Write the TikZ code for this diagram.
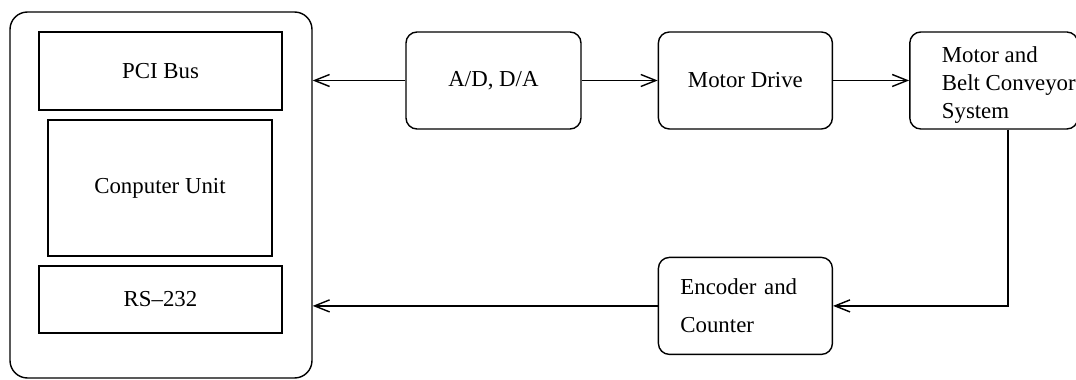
\documentclass[tikz,border=0pt]{standalone}
\usepackage{fontspec}
\setmainfont{Liberation Serif}
\usepackage{tikz}
\usetikzlibrary{arrows.meta, positioning}

\begin{document}
\begin{tikzpicture}[
		node distance=1.52cm,
		line width=0.8pt,
		font=\fontsize{13}{16}\selectfont,
		block/.style={
			draw,
			rounded corners=0.22cm,
			minimum width=3.48cm,
			minimum height=1.94cm,
			align=center
		},
		part/.style={
			draw,
			minimum width=4.86cm,
			align=center
		},
		link/.style={-{Straight Barb[length=0.3cm, width=0.24cm]}}
		]
		
		\useasboundingbox (0,0) rectangle (21.52,-7.6);
		
		% computer side
		\node[draw, rounded corners=0.35cm, minimum width=6.04cm, minimum height=7.32cm] (pc) at (3.22,-3.9) {};
		\node[part, minimum height=1.56cm] (pci) at (3.21,-1.42) {PCI Bus};
		\node[part, minimum width=4.48cm, minimum height=2.72cm] (cpu) at (3.2,-3.76) {Conputer Unit};
		\node[part, minimum height=1.34cm] (rs) at (3.21,-5.99) {RS--232};
		
		% signal chain
		\node[block, minimum width=3.5cm] (adda) at (9.87,-1.61) {A/D, D/A};
		\node[block, right=of adda] (mdrive) {Motor Drive};
		\node[block, right=of mdrive, minimum width=3.36cm, inner xsep=0.02cm, inner ysep=0pt, align=none] (motor) {\hspace*{0.6cm}\begin{tabular}{@{}l@{}}\rule{0pt}{16pt}Motor and\\ Belt Conveyor\\ System\end{tabular}};
		\node[block, below=2.54cm of mdrive, text width=2.6cm, align=left] (encoder) {Encoder and\\[5.6pt] Counter};
		
		\draw[link, {Straight Barb[length=0.3cm, width=0.24cm]}-] (pc.east |- adda.west) -- (adda.west);
		\draw[link] (adda) -- (mdrive);
		\draw[link] (mdrive) -- (motor);
		\draw[link] ([xshift=0.28cm]motor.south) |- (encoder.east);
		\draw[link] (encoder.west) -- (encoder.west -| pc.east);
		
	\end{tikzpicture}
\end{document}
